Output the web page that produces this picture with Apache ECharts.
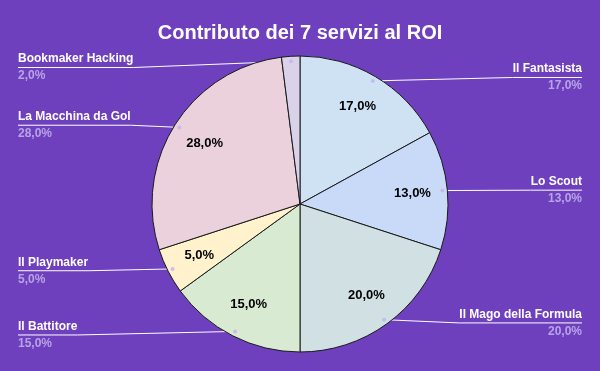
<!DOCTYPE html>
<html><head><meta charset="utf-8">
<script src="https://cdn.jsdelivr.net/npm/echarts@6/dist/echarts.min.js"></script>
<style>html,body{margin:0;padding:0;background:#6e40be}#c{width:600px;height:371px}</style>
</head><body><div id="c"></div>
<script>
const chartTitle = 'Contributo dei 7 servizi al ROI';
const services = ['Il Fantasista','Lo Scout','Il Mago della Formula','Il Battitore','Il Playmaker','La Macchina da Gol','Bookmaker Hacking'];
const shares = [17, 13, 20, 15, 5, 28, 2];
const sliceColors = ['#cfe2f3','#c9daf8','#d0e0e3','#d9ead3','#fff2cc','#ead1dc','#d9d2e9'];

const FONT = '"Liberation Sans", Arial, sans-serif';
const fmt = v => v.toFixed(1).replace('.', ',') + '%';
const total = shares.reduce((a, b) => a + b, 0);
const pieData = services.map((n, i) => ({ name: n, value: shares[i], itemStyle: { color: sliceColors[i] } }));
let cum = 0;
const dotData = shares.map(v => { const mid = cum + v / 2; cum += v; return [1, mid / total * 100]; });

const CX = 300, CY = 204, R = 148, RL = 143;
const LABEL_TOP = CY - R - 3; // labels kept inside the plot area, below the title
const chart = echarts.init(document.getElementById('c'));
chart.setOption({
  backgroundColor: '#6e40be',
  animation: false,
  title: {
    text: chartTitle, left: 'center', top: 18,
    textStyle: { color: '#ffffff', fontSize: 20, fontWeight: 'bold', fontFamily: FONT }
  },
  polar: { center: [CX, CY], radius: RL },
  angleAxis: { type: 'value', min: 0, max: 100, startAngle: 90, clockwise: true, show: false },
  radiusAxis: { type: 'value', min: 0, max: 1, show: false },
  series: [
    {
      type: 'pie', center: [CX, CY], radius: R, startAngle: 90, clockwise: true,
      silent: true, data: pieData,
      itemStyle: { borderColor: '#1a1a1a', borderWidth: 1 },
      label: { show: false }, labelLine: { show: false }
    },
    {
      type: 'pie', center: [CX, CY], radius: [72, R], startAngle: 90, clockwise: true,
      silent: true, minShowLabelAngle: 10,
      data: services.map((n, i) => ({ name: n, value: shares[i] })),
      itemStyle: { color: 'transparent', borderWidth: 0 },
      label: {
        show: true, position: 'inside',
        formatter: p => fmt(p.value / total * 100),
        color: '#000', fontSize: 13, fontWeight: 'bold', fontFamily: FONT
      },
      labelLine: { show: false }
    },
    {
      type: 'pie', center: [CX, CY], radius: RL, startAngle: 90, clockwise: true,
      silent: true,
      data: services.map((n, i) => ({ name: n, value: shares[i] })),
      itemStyle: { color: 'transparent', borderWidth: 0 },
      label: {
        show: true, position: 'outside', alignTo: 'edge', edgeDistance: 18,
        formatter: p => '{n|' + p.name + '}\n{v|' + fmt(p.value / total * 100) + '}',
        rich: {
          n: { color: '#ffffff', fontSize: 12, fontWeight: 'bold', fontFamily: FONT, lineHeight: 17 },
          v: { color: '#b8a4e6', fontSize: 12, fontWeight: 'bold', fontFamily: FONT, lineHeight: 17 }
        }
      },
      labelLine: { show: true, length: 4, length2: 10, smooth: false, lineStyle: { color: '#ffffff', width: 1 } },
      labelLayout: function (p) {
        const pts = p.labelLinePoints;
        if (!pts) return {};
        const r = p.labelRect;
        const shift = Math.max(0, LABEL_TOP - r.y);
        const cy = r.y + shift + r.height / 2;
        const leftSide = r.x + r.width / 2 < CX;
        const nearX = leftSide ? r.x + r.width : r.x;
        const farX = leftSide ? r.x : r.x + r.width;
        return { dy: shift, labelLinePoints: [pts[0], [nearX, cy], [farX, cy]] };
      }
    },
    {
      type: 'scatter', coordinateSystem: 'polar', silent: true,
      data: dotData, symbolSize: 4,
      itemStyle: { color: '#c6b0ec' }
    }
  ]
});
</script></body></html>
